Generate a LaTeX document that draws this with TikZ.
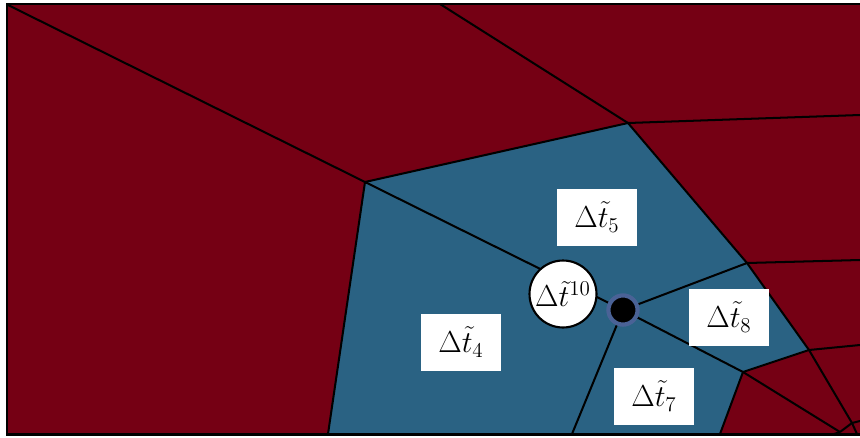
\documentclass[tikz,border=0pt]{standalone}
\usepackage{amsmath}
\usepackage{tikz}
\usetikzlibrary{calc}

\definecolor{cellred}{RGB}{117,0,20}
\definecolor{cellblue}{RGB}{42,98,131}
\definecolor{ringblue}{RGB}{74,98,150}

\begin{document}
\begin{tikzpicture}[x=0.02cm, y=-0.02cm,
  edge/.style={line width=1.15pt, black},
  tbox/.style={fill=white, inner sep=0pt, minimum width=1.62cm, minimum height=1.14cm, font=\fontsize{17}{20}\selectfont},
  tcirc/.style={circle, draw=black, fill=white, line width=1.2pt, inner sep=0pt, minimum size=1.34cm, font=\fontsize{17}{20}\selectfont},
  tdot/.style={circle, fill=black, draw=ringblue, line width=2.3pt, inner sep=0pt, minimum size=0.58cm}]

\useasboundingbox (0,0) rectangle (860,437);

\def\xL{7}
\def\xR{860}
\def\yT{4}
\def\yB{434}

\coordinate (corner) at (8,5);
\coordinate (v1) at (365,182);
\coordinate (v2) at (628,123);
\coordinate (v3) at (747,263);
\coordinate (v4) at (809,350);
\coordinate (v5) at (743,372);
\coordinate (p1) at (852,423);
\coordinate (p2) at (840,432);
\coordinate (top1) at (440,\yT);
\coordinate (r1) at (\xR,115);
\coordinate (r2) at (\xR,260);
\coordinate (r3) at (\xR,345);
\coordinate (r4) at (\xR,421);
\coordinate (b1) at (328,\yB);
\coordinate (b2) at (572,\yB);
\coordinate (b3) at (720,\yB);
\coordinate (b4) at (857,\yB);
\coordinate (b5) at (834,\yB);

\fill[cellred] (\xL,\yT) rectangle (\xR,\yB);
\fill[cellblue] (v1) -- (v2) -- (v3) -- (v4) -- (v5) -- (b3) -- (b1) -- cycle;

\node[tdot] (dot) at (623,310) {};

\draw[edge] (corner) -- (v1);
\draw[edge] (top1) -- (v2);
\draw[edge] (v1) -- (v2);
\draw[edge] (v2) -- (r1);
\draw[edge] (v2) -- (v3);
\draw[edge] (v3) -- (r2);
\draw[edge] (v3) -- (v4);
\draw[edge] (v4) -- (r3);
\draw[edge] (v4) -- (p1);
\draw[edge] (v5) -- (v4);
\draw[edge] (v5) -- (b3);
\draw[edge] (v5) -- (p2);
\draw[edge] (p2) -- (p1);
\draw[edge] (p1) -- (r4);
\draw[edge] (p1) -- (b4);
\draw[edge] (p2) -- (b5);
\draw[edge] (v1) -- (b1);
\draw[edge] (v1) -- (dot);
\draw[edge] (dot) -- (v3);
\draw[edge] (dot) -- (v5);
\draw[edge] (dot) -- (b2);

\node[tdot] at (dot) {};
\node[tcirc] (ten) at (563,294) {$\Delta\tilde{t}^{10}$};

\node[tbox] (t5) at (597,217) {$\Delta\tilde{t}_5$};
\node[tbox] (t4) at (461,342) {$\Delta\tilde{t}_4$};
\node[tbox] (t8) at (729,317) {$\Delta\tilde{t}_8$};
\node[tbox] (t7) at (654,396) {$\Delta\tilde{t}_7$};

\draw[line width=1.7pt] (\xR,\yT) -- (\xL,\yT) -- (\xL,\yB) -- (\xR,\yB);

\end{tikzpicture}
\end{document}
